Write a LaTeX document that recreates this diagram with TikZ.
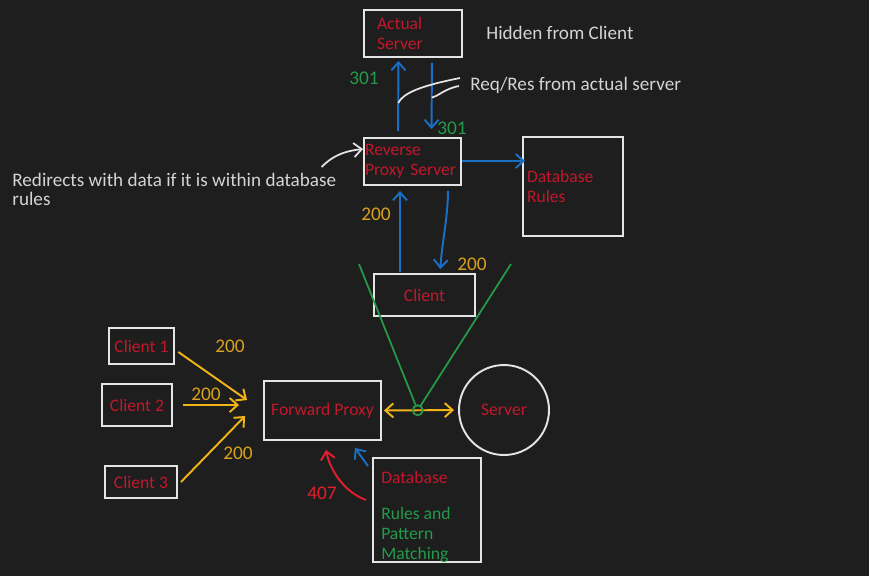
\documentclass[tikz,border=0pt]{standalone}
\usepackage{fontspec}
\setmainfont{Carlito}
\usetikzlibrary{arrows.meta}
\definecolor{bg}{HTML}{1E1E1E}
\definecolor{chalk}{HTML}{E4E4E4}
\definecolor{chalktext}{HTML}{D4D4D4}
\definecolor{redink}{HTML}{C3172B}
\definecolor{redarrow}{HTML}{E0202C}
\definecolor{greenink}{HTML}{249A4A}
\definecolor{yellowink}{HTML}{D9A21C}
\definecolor{yellowarrow}{HTML}{F2B417}
\definecolor{blueink}{HTML}{1A6FC4}

\tikzset{
  box/.style={draw=chalk, line width=1.1pt, text=redink, font=\fontsize{10}{11.5}\selectfont},
  flow/.style={line width=1.1pt, -{Straight Barb[length=4.5pt,width=8pt]}},
  twoway/.style={line width=1.1pt, {Straight Barb[length=4.5pt,width=8pt]}-{Straight Barb[length=4.5pt,width=8pt]}},
  lbl/.style={font=\fontsize{11}{12}\selectfont, inner sep=0pt},
  note/.style={text=chalktext, font=\fontsize{10.9}{10.8}\selectfont, align=left, anchor=west, inner sep=0pt}
}

\begin{document}
\begin{tikzpicture}[x=0.02cm,y=-0.02cm]
\fill[bg] (0,0) rectangle (869,576);
\useasboundingbox (0,0) rectangle (869,576);

% upper part: reverse proxy
\node[box, minimum height=0.94cm, text width=1.44cm, inner xsep=0.26cm, align=left] (actual) at (413,33.5) {Actual\\Server};
\node[box, minimum height=0.94cm, text width=1.9cm, inner xsep=0.02cm, align=left] (reverse) at (412.5,161.5) {Reverse\\Proxy Server};
\node[box, minimum height=1.98cm, text width=1.84cm, inner xsep=0.08cm, align=left] (dbrules) at (573,186.5) {Database\\Rules};
\node[box, minimum width=2.02cm, minimum height=0.84cm] (client) at (424.5,295) {Client};

\node[note] (hidden) at (486,33) {Hidden from Client};
\node[note] (reqres) at (470,85) {Req/Res from actual server};
\node[note] (redir) at (12,189.5) {Redirects with data if it is within database\\rules};

\draw[flow, blueink, shorten <=0.12cm, shorten >=0.06cm] ([xshift=-0.29cm]reverse.north) -- coordinate[pos=0.43] (upmid) ([xshift=-0.29cm]actual.south);
\draw[flow, blueink, shorten <=0.1cm, shorten >=0.16cm] ([xshift=0.38cm]actual.south) -- coordinate[pos=0.5] (downmid) ([xshift=0.38cm]reverse.north);
\draw[chalk, line width=1pt] ([xshift=-0.2cm,yshift=0.14cm]reqres.west) .. controls +(-40,8) and +(5,-10) .. (upmid);
\draw[chalk, line width=1pt] ([xshift=-0.22cm,yshift=-0.02cm]reqres.west) .. controls +(-15,3) and +(8,-2) .. (downmid);
\draw[flow, chalk, line width=1pt] ([xshift=-0.3cm,yshift=0.12cm]redir.north east) .. controls +(12,-12) and +(-18,2) .. ([yshift=0.25cm]reverse.west);
\draw[flow, blueink] ([yshift=0.01cm]reverse.east) -- ([yshift=0.01cm,xshift=0.06cm]reverse.east -| dbrules.west);
\draw[flow, blueink, shorten <=0.02cm, shorten >=0.1cm] ([xshift=-0.49cm]client.north) -- ([xshift=-0.25cm]reverse.south);
\draw[flow, blueink, shorten <=0.1cm, shorten >=0.08cm] ([xshift=0.71cm]reverse.south) .. controls +(0,30) and +(2,-30) .. ([xshift=0.31cm]client.north);

\node[lbl, text=greenink] (code301a) at (364,78) {301};
\node[lbl, text=greenink] (code301b) at (452,128) {301};
\node[lbl, text=yellowink] (code200a) at (376,214) {200};
\node[lbl, text=yellowink] (code200b) at (472,264) {200};

% lower part: forward proxy
\node[box, minimum width=1.26cm, minimum height=0.72cm] (client1) at (141.5,346) {Client 1};
\node[box, minimum width=1.4cm, minimum height=0.84cm] (client2) at (137,405) {Client 2};
\node[box, minimum width=1.44cm, minimum height=0.64cm] (client3) at (141,482) {Client 3};
\node[box, minimum width=2.34cm, minimum height=1.18cm] (fwd) at (322.5,410.5) {Forward Proxy};
\node[box, circle, minimum size=1.8cm] (server) at (504,410) {Server};
\node[box, minimum width=2.16cm, minimum height=2.08cm,
  label={[anchor=north west, xshift=0.06cm, yshift=-0.16cm, align=left, text=redink, font=\fontsize{10}{11.5}\selectfont]north west:
  Database\\[9pt]\textcolor{greenink}{Rules and}\\\textcolor{greenink}{Pattern}\\\textcolor{greenink}{Matching}}] (db) at (427,510) {};

\draw[flow, yellowarrow] ([xshift=0.06cm,yshift=-0.12cm]client1.east) -- ([xshift=-0.32cm,yshift=0.21cm]fwd.west);
\draw[flow, yellowarrow, shorten <=0.2cm, shorten >=0.48cm] (client2.east) -- (client2.east -| fwd.west);
\draw[flow, yellowarrow] ([xshift=0.06cm]client3.east) -- ([xshift=-0.36cm,yshift=-0.11cm]fwd.west);
\draw[twoway, yellowarrow, shorten <=0.04cm, shorten >=0.08cm] (fwd.east) -- coordinate[pos=0.47] (junc) (server.west);

\coordinate (funl) at (359,264);
\coordinate (funr) at (511,264);
\draw[greenink, line width=1pt, shorten >=0.1cm] (funl) -- (junc);
\draw[greenink, line width=1pt, shorten >=0.1cm] (funr) -- (junc);
\draw[greenink, line width=1pt] (junc) circle[radius=0.1cm];

\draw[flow, blueink] ([xshift=-0.08cm,yshift=-0.18cm]db.north west) -- ([xshift=0.65cm,yshift=-0.14cm]fwd.south);
\draw[flow, redarrow] ([xshift=-0.12cm,yshift=0.2cm]db.west) .. controls +(-22,-8) and +(4,20) .. ([xshift=0.07cm,yshift=-0.18cm]fwd.south);

\node[lbl, text=yellowink] (code200c) at (230,346) {200};
\node[lbl, text=yellowink] (code200d) at (206,394) {200};
\node[lbl, text=yellowink] (code200e) at (238,453) {200};
\node[lbl, text=redarrow] (code407) at (322,493) {407};
\end{tikzpicture}
\end{document}
